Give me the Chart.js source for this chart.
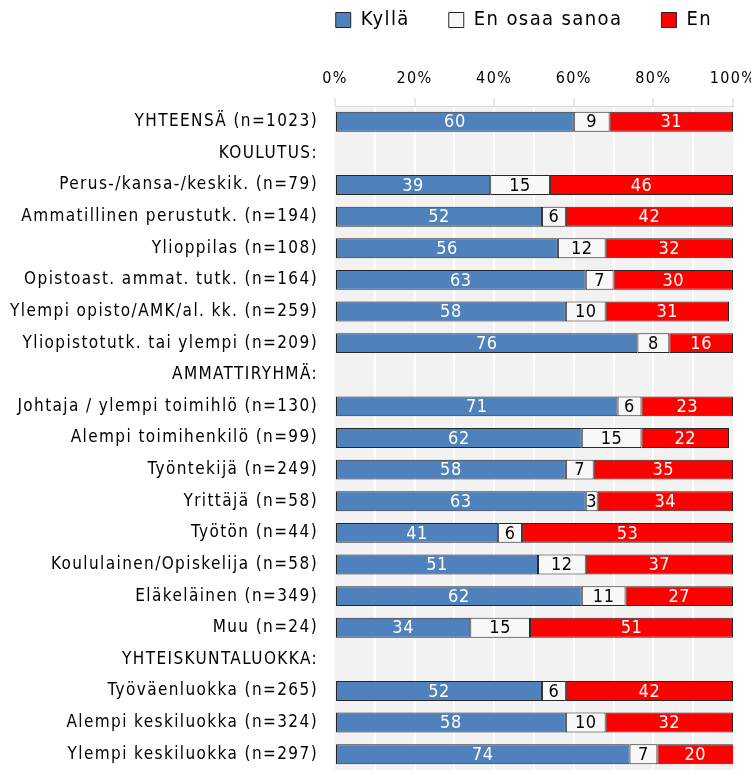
<!DOCTYPE html>
<html lang="fi">

<head>
  <meta charset="UTF-8" />
  <title>Kyllä / En osaa sanoa / En</title>
  <script src="https://cdn.jsdelivr.net/npm/chart.js"></script>
  <style>
    html, body { margin: 0; padding: 0; background: #ffffff; }
    #wrap { width: 751px; height: 770px; }
  </style>
</head>

<body>
  <div id="wrap">
    <canvas id="chartBar"></canvas>
  </div>
</body>

</html>

<script>
  // rivit (väliotsikot ilman palkkeja -> null)
  var rotulos = [
    "YHTEENSÄ (n=1023)",
    "KOULUTUS:",
    "Perus-/kansa-/keskik. (n=79)",
    "Ammatillinen perustutk. (n=194)",
    "Ylioppilas (n=108)",
    "Opistoast. ammat. tutk. (n=164)",
    "Ylempi opisto/AMK/al. kk. (n=259)",
    "Yliopistotutk. tai ylempi (n=209)",
    "AMMATTIRYHMÄ:",
    "Johtaja / ylempi toimihlö (n=130)",
    "Alempi toimihenkilö (n=99)",
    "Työntekijä (n=249)",
    "Yrittäjä (n=58)",
    "Työtön (n=44)",
    "Koululainen/Opiskelija (n=58)",
    "Eläkeläinen (n=349)",
    "Muu (n=24)",
    "YHTEISKUNTALUOKKA:",
    "Työväenluokka (n=265)",
    "Alempi keskiluokka (n=324)",
    "Ylempi keskiluokka (n=297)"
  ];
  var dataKylla = [60, null, 39, 52, 56, 63, 58, 76, null, 71, 62, 58, 63, 41, 51, 62, 34, null, 52, 58, 74];
  var dataEOS   = [9, null, 15, 6, 12, 7, 10, 8, null, 6, 15, 7, 3, 6, 12, 11, 15, null, 6, 10, 7];
  var dataEn    = [31, null, 46, 42, 32, 30, 31, 16, null, 23, 22, 35, 34, 53, 37, 27, 51, null, 42, 32, 20];
  var ticksX = [0, 20, 40, 60, 80, 100];

  var fonte = "'DejaVu Sans Condensed', 'Liberation Sans Narrow', 'Roboto', sans-serif";

  // espaçamento entre letras (o original usa uma fonte estreita e espaçada)
  var espacoPlugin = {
    id: 'espaco',
    beforeUpdate: function (chart) { chart.ctx.letterSpacing = '1.4px'; },
    beforeLayout: function (chart) { chart.ctx.letterSpacing = '1.4px'; },
    beforeDraw: function (chart) { chart.ctx.letterSpacing = '1.4px'; }
  };

  // fundo cinza da área do gráfico
  var fundoPlugin = {
    id: 'fundo',
    beforeDraw: function (chart) {
      var a = chart.chartArea;
      var ctx = chart.ctx;
      ctx.save();
      ctx.fillStyle = '#f2f2f2';
      ctx.fillRect(a.left, a.top, a.right - a.left, a.bottom - a.top);
      ctx.restore();
    }
  };

  // valores dentro das barras
  var rotuloPlugin = {
    id: 'valores',
    afterDatasetsDraw: function (chart) {
      var ctx = chart.ctx;
      ctx.save();
      ctx.letterSpacing = '0.5px';
      ctx.font = '18px ' + fonte;
      ctx.textAlign = 'center';
      ctx.textBaseline = 'middle';
      chart.data.datasets.forEach(function (ds, i) {
        var meta = chart.getDatasetMeta(i);
        meta.data.forEach(function (bar, j) {
          var v = ds.data[j];
          if (v === null || v === undefined) return;
          var x1 = Math.min(bar.x, bar.base);
          var x2 = Math.min(Math.max(bar.x, bar.base), chart.chartArea.right);
          ctx.fillStyle = ds.corTexto;
          ctx.fillText(v, (x1 + x2) / 2, bar.y + 1);
        });
      });
      ctx.restore();
    }
  };

  var ctxBar = document.getElementById("chartBar").getContext("2d");
  var configBar = {
    type: 'bar',
    data: {
      labels: rotulos,
      datasets: [
        { label: 'Kyllä', data: dataKylla, backgroundColor: '#4f81bd', borderColor: '#262626', corTexto: '#ffffff' },
        { label: 'En osaa sanoa', data: dataEOS, backgroundColor: '#f8f8f8', borderColor: '#262626', corTexto: '#000000' },
        { label: 'En', data: dataEn, backgroundColor: '#ff0000', borderColor: '#262626', corTexto: '#ffffff' }
      ]
    },
    options: {
      indexAxis: 'y',
      responsive: true,
      maintainAspectRatio: false,
      animation: false,
      datasets: {
        bar: {
          borderWidth: 1,
          borderSkipped: false,
          barPercentage: 0.63,
          categoryPercentage: 1
        }
      },
      layout: { padding: { left: 0, right: 0, top: -29, bottom: 0 } },
      plugins: {
        legend: {
          position: 'top',
          fullSize: true,
          align: 'end',
          labels: {
            color: '#000000',
            boxWidth: 15,
            boxHeight: 15,
            padding: 39,
            font: { family: fonte, size: 20 }
          }
        },
        tooltip: { enabled: false }
      },
      scales: {
        x: {
          position: 'top',
          stacked: true,
          min: 0,
          max: 100,
          // título vazio só para dar espaço entre a legenda e os rótulos do eixo
          title: {
            display: true,
            text: '',
            font: { size: 1 },
            padding: { top: 0, bottom: 17.6 }
          },
          ticks: {
            stepSize: 10,
            autoSkip: false,
            maxRotation: 0,
            color: '#000000',
            padding: 10,
            font: { family: fonte, size: 16 },
            callback: function (v) {
              return ticksX.indexOf(v) >= 0 ? v + '%' : '';
            }
          },
          grid: {
            color: function (c) {
              var v = c.tick ? c.tick.value : 0;
              return (v === 0 || v === 100) ? 'rgba(0,0,0,0)' : '#ffffff';
            },
            lineWidth: 2,
            tickLength: 8,
            tickColor: function (c) {
              var v = c.tick ? c.tick.value : 0;
              return ticksX.indexOf(v) >= 0 ? '#d0d0d0' : 'rgba(0,0,0,0)';
            },
            tickWidth: 1
          },
          border: { display: true, color: '#d9d9d9' },
          afterFit: function (scale) {
            scale.paddingLeft = 0;
            scale.paddingRight = 18;
          }
        },
        y: {
          stacked: true,
          grid: { display: false, tickLength: 17 },
          border: { display: false },
          ticks: {
            color: '#000000',
            padding: 0,
            autoSkip: false,
            font: { family: fonte, size: 17 }
          },
          afterFit: function (scale) {
            scale.width = 335;
            scale.paddingTop = 0;
            scale.paddingBottom = 0;
          }
        }
      }
    },
    plugins: [espacoPlugin, fundoPlugin, rotuloPlugin]
  };
  var ax_chartBar = new Chart(ctxBar, configBar);
</script>
